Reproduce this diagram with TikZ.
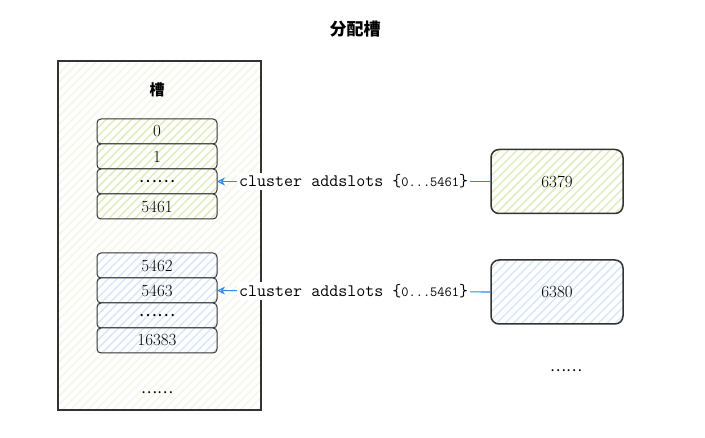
\documentclass[tikz,border=0pt]{standalone}
\usepackage{fontspec}
\newfontfamily\cjk{Noto Sans CJK SC}
\usepackage{xcolor}
\usepackage{tikz}
\usetikzlibrary{
	positioning,    % posizionamento relativo dei nodi
	arrows.meta,    % punte di freccia
	patterns.meta   % tratteggio
}

\definecolor{bordo}{HTML}{333333}
\definecolor{verde}{HTML}{DFECBD}
\definecolor{azzurro}{HTML}{D9E7F6}
\definecolor{grigio}{HTML}{F5F5EA}
\definecolor{freccia}{HTML}{2E8BE6}

\tikzset{
	tratteggio/.style={preaction={fill=white},
		pattern={Lines[angle=45,distance=6pt,line width=1.5pt]}, pattern color=#1},
	slot/.style={draw=bordo, line width=1pt, rounded corners=4pt,
		minimum width=120pt, minimum height=25pt, outer sep=0pt,
		inner sep=0pt, font=\fontsize{17}{20}\selectfont},
	slotverde/.style={slot, tratteggio=verde},
	slotblu/.style={slot, tratteggio=azzurro},
	server/.style={draw=bordo, line width=1.5pt, rounded corners=8pt,
		minimum width=132pt, minimum height=64pt, inner sep=0pt,
		font=\fontsize{17}{20}\selectfont},
	comando/.style={fill=white, inner sep=2pt, text=black}
}

\newcommand{\puntini}{{\cjk ……}}
\newcommand{\addslots}{{\fontsize{17.5}{20}\ttfamily cluster addslots \{}{\fontsize{14}{16}\ttfamily 0...5461}{\fontsize{17.5}{20}\ttfamily\}}}

\begin{document}
\begin{tikzpicture}[x=1pt, y=-1pt]
		\useasboundingbox (0,0) rectangle (705,438);
		
		% --- Titolo ---
		\node[font=\cjk\bfseries\fontsize{17}{20}\selectfont] (titolo) at (355,29) {分配槽};
		
		% --- Contenitore degli slot ---
		\node[draw=bordo, line width=1.3pt, tratteggio=grigio,
			minimum width=203pt, minimum height=349pt, inner sep=0pt] (box) at (159.5,235.5) {};
		\node[font=\cjk\bfseries\fontsize{15}{18}\selectfont] (etichetta) at (157,90) {槽};
		
		% --- Slot del primo nodo ---
		\node[slotverde] (s0) at (157,131.5) {0};
		\node[slotverde, below=0pt of s0] (s1) {1};
		\node[slotverde, below=0pt of s1] (sdotsA) {\puntini};
		\node[slotverde, below=0pt of sdotsA] (s5461) {5461};
		
		% --- Slot del secondo nodo ---
		\node[slotblu] (s5462) at (157,265.5) {5462};
		\node[slotblu, below=0pt of s5462] (s5463) {5463};
		\node[slotblu, below=0pt of s5463] (sdotsB) {\puntini};
		\node[slotblu, below=0pt of sdotsB] (s16383) {16383};
		
		\node[font=\fontsize{15}{18}\selectfont] (altri) at (157,393) {\puntini};
		
		% --- Nodi del cluster ---
		\node[server, tratteggio=verde] (n6379) at (557,181.5) {6379};
		\node[server, tratteggio=azzurro] (n6380) at (557,292) {6380};
		\node[font=\fontsize{15}{18}\selectfont] (altrinodi) at (566,371) {\puntini};
		
		% --- Comandi ---
		\draw[freccia, line width=1.1pt, -{Stealth[open, length=8pt, width=8pt]}]
		(n6379.west) -- node[comando] {\addslots} (sdotsA.east);
		\draw[freccia, line width=1.1pt, -{Stealth[open, length=8pt, width=8pt]}]
		(n6380.west) -- node[comando] {\addslots} (s5463.east);
	\end{tikzpicture}
\end{document}
